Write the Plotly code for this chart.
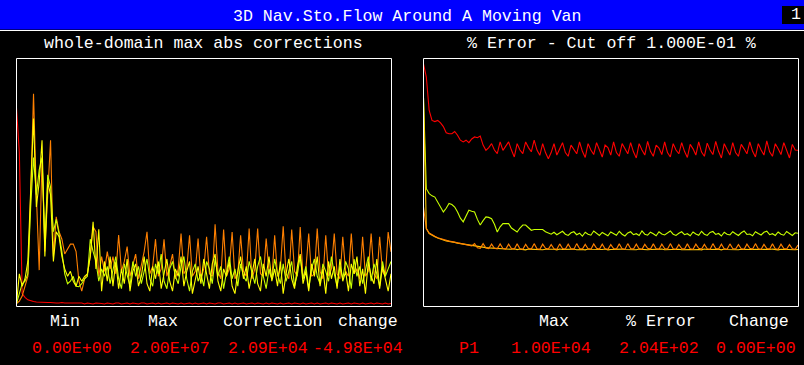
import plotly.graph_objects as go

# ---------------- data ----------------
iterations = list(range(133))

# left panel: whole-domain max abs corrections (normalised 0-100)
corr_p1 = [80, 62, 5, 3.5, 2.5, 2, 1.8, 1.6, 1.5, 1.6,
           1.6, 1.4, 1.4, 1.2, 1.2, 1.2, 1.4, 1.2, 1.2, 1.2,
           1.2, 1.0, 1.2, 1.2, 0.8, 1.2, 1.0, 0.8, 1.2, 1.2,
           1.0, 0.8, 1.2, 1.0, 0.8, 1.2, 1.2, 0.8, 1.0, 1.2,
           0.8, 1.2, 1.0, 0.8, 1.2, 1.2, 0.8, 1.0, 1.2, 0.8,
           1.2, 0.8, 1.0, 1.2, 0.8, 1.2, 1.0, 0.8, 1.2, 0.8,
           1.0, 1.2, 0.8, 1.2, 0.8, 1.0, 1.2, 0.8, 1.2, 1.0,
           0.8, 1.2, 1.2, 0.8, 1.0, 1.2, 0.8, 1.2, 0.8, 1.0,
           1.2, 0.8, 1.0, 1.2, 0.8, 1.2, 1.0, 0.8, 1.2, 0.8,
           1.2, 1.0, 0.8, 1.2, 0.8, 1.0, 1.2, 0.8, 1.2, 1.0,
           0.8, 1.2, 0.8, 1.0, 1.2, 0.8, 1.2, 0.8, 1.0, 1.2,
           0.8, 1.2, 1.0, 0.8, 1.2, 0.8, 1.0, 1.2, 0.8, 1.2,
           1.0, 0.8, 1.2, 0.8, 1.0, 1.2, 0.8, 1.2, 1.0, 0.8,
           1.2, 0.8, 1.0]
corr_u1 = [1, 2, 4, 8, 12, 45, 85.8, 45, 14.5, 60,
           22, 45, 67, 20, 36, 30, 27, 21, 23, 25,
           25, 22, 10, 6, 11, 13, 20, 32, 30, 12,
           20, 14, 22, 15, 20, 13, 28.7, 14, 18, 24,
           12, 16, 21, 11, 17, 22, 30, 13, 16, 27,
           12, 15, 27, 12, 16, 21, 11, 15, 29.3, 13,
           15, 28.6, 12, 14, 27.3, 11, 15, 28, 13, 12,
           33, 14, 11, 30.9, 12, 15, 29.9, 11, 13, 28.6,
           14, 12, 31.3, 11, 15, 31.3, 13, 12, 27.3, 14,
           11, 28.6, 12, 15, 32.2, 13, 11, 30.9, 14, 12,
           31.9, 11, 15, 29.3, 12, 13, 31.3, 14, 11, 28.6,
           12, 15, 29.3, 13, 11, 28, 14, 12, 29.3, 13,
           15, 11, 28, 12, 14, 29.3, 13, 11, 28, 14,
           12, 29.9, 21.9]
corr_v1 = [1, 13, 8, 11, 18, 50, 75.7, 40, 50, 67,
           20, 50, 45, 18, 30, 28, 20, 15, 12, 14,
           10, 8, 12, 10, 12, 13, 20, 34, 15, 31,
           6, 18, 10, 20, 8,
           18, 7, 15, 9, 19, 6, 14, 17, 8, 12,
           20, 9, 6, 16, 11, 18, 7, 13, 19, 10,
           6, 15, 12, 20, 8, 14, 18, 5, 11, 16,
           9, 19, 13, 7, 17, 21, 10, 6, 15, 12,
           18, 8, 5, 14, 20, 11, 16, 7, 13, 19,
           9, 6, 17, 12, 20, 10, 15, 8, 18, 5,
           13, 19, 11, 7, 16, 21, 9, 14, 6, 17,
           12, 20, 8, 15, 5, 18, 11, 16, 7, 19,
           10, 14, 6, 17, 13, 20, 8, 15, 5, 18,
           12, 9, 19, 7, 16, 11, 6, 13]
corr_w1 = [1, 5, 9, 10, 13, 40, 60, 45, 55, 60,
           25, 53, 48, 30, 35, 29, 22, 13, 9, 10,
           12, 8, 7.8, 9, 11, 12, 27, 22, 18, 10,
           15,
           12, 16, 9, 14, 20, 11, 7, 17, 13, 8, 18, 12, 16, 9,
           14, 19, 11, 8, 17, 13, 21, 10, 7, 15,
           18, 12, 9, 16, 20, 11, 6, 14, 17, 10,
           13, 8, 18, 15, 9, 19, 12, 16, 7, 14,
           20, 11, 15, 8, 17, 12, 10, 18, 14, 9,
           16, 20, 12, 7, 15, 11, 19, 13, 9, 17,
           10, 14, 18, 8, 13, 20, 11, 16, 7, 15,
           19, 12, 9, 17, 14, 10, 20, 13, 8, 16,
           11, 18, 15, 7, 19, 12, 16, 9, 14, 20,
           10, 17, 13, 8, 18, 12, 15, 18]

# right panel: % error (normalised 0-100)
err_p1 = [97.8, 92.5, 79, 75, 74.5, 75, 74, 72.5, 70, 69.6,
          69.6, 70.5, 69, 67, 66.3, 67, 66, 67.5, 68.3, 68,
          68.7, 65, 62.9, 64, 65.6, 63, 61.6, 66.3, 62.9, 64.5,
          66.3, 63, 60.2, 65.6, 63, 61.6, 66.3, 64, 62.3, 67,
          63, 60.9, 65.6, 62, 59.5,
          62, 65.6, 61, 63.5, 66, 62, 60.5, 65, 63, 61.5,
          66.3, 62.5, 60, 65.6, 63, 61.2, 66, 62.8, 60.2, 65,
          64, 61, 66.3, 62, 60.5, 65.6, 63.5, 61.5, 66, 62.3,
          59.8, 65.6, 63, 61, 66.5, 62.5, 60.5, 65, 63.8, 61.2,
          66.3, 62, 60.2, 65.6, 63, 61.5, 66, 62.5, 60, 65.3,
          63.5, 61, 66.3, 62.2, 60.5, 65.8, 63, 61.2, 66.5, 62.5,
          59.8, 65.6, 63.2, 61, 66, 62, 60.5, 65.3, 63.5, 61.5,
          66.3, 62.5, 60.2, 65.6, 63, 61, 66.7, 62.3, 60.5, 65.6,
          63.5, 61.2, 66, 62.5, 59.8, 65.3, 63, 62.9]
err_w1 = [84, 47.4, 45.4, 44.5, 44, 42, 40, 38, 39.5, 41.4,
          41, 40, 38, 35.5, 34, 36.5, 38.7, 38.3, 38, 35,
          32.7, 34.5, 36, 35.8, 35.3, 33, 29.9, 32, 33.3, 33.3,
          33.3, 31.5, 30.5, 29.9, 31.5, 32.7, 32.7, 31.5, 30.6, 30.9,
          30.9, 31, 30.9, 30, 29.5, 29, 29.8, 28.8, 29.5, 30.2,
          29, 28.5, 29.6, 30, 28.8, 29.4, 28.2, 29.8, 29, 28.6,
          30.3, 29.2, 28.5, 29.7, 29, 28.4, 29.9, 29.1, 28.6, 30.2,
          29, 28.3, 29.5, 30, 28.8, 29.2, 28.5, 30.3, 29, 28.6,
          29.8, 29.2, 28.4, 30, 29.1, 28.7, 29.6, 30.3, 29, 28.5,
          29.4, 30, 28.8, 29.2, 28.4, 29.9, 29.1, 28.6, 30.2, 29,
          28.5, 29.7, 30.1, 28.9, 29.3, 28.3, 29.8, 29, 28.7, 30,
          29.2, 28.5, 29.6, 30.3, 28.9, 29.1, 28.4, 30, 29.3, 28.7,
          29.8, 30.2, 28.8, 29.2, 28.5, 29.9, 29, 28.6, 30.1, 29.2,
          28.5, 29.6, 29.4]
err_v1 = [84, 31.3, 29.3, 28.5, 28, 27.5, 27, 26.6, 26.3, 26.1,
          26, 25.7, 25.4, 25.2, 25, 24.8, 24.5, 24.3, 24.1, 24,
          23.8, 23.7, 23.6, 23.5, 23.4, 23.3, 23.3, 23.2, 23.1, 23,
          23, 22.9, 23.1, 22.8, 23, 22.9, 22.7, 23, 22.9, 22.8,
          23, 22.8, 22.7, 22.9, 23, 22.8, 22.9, 22.7, 23, 22.8,
          22.9, 22.7, 22.8, 23, 22.7, 22.9, 22.8, 22.7, 23, 22.9,
          22.8, 22.7, 22.9, 22.8, 23, 22.7, 22.8, 22.9, 22.7, 22.8,
          23, 22.8, 22.7, 22.9, 22.8, 22.7, 23, 22.8, 22.9, 22.7,
          22.8, 22.9, 22.7, 22.8, 23, 22.7, 22.8, 22.9, 22.7, 22.8,
          22.9, 22.7, 22.8, 23, 22.8, 22.7, 22.9, 22.8, 22.7, 23,
          22.8, 22.9, 22.7, 22.8, 22.9, 22.7, 23, 22.8, 22.7, 22.9,
          22.8, 22.7, 22.9, 22.8, 23, 22.7, 22.8, 22.9, 22.7, 22.8,
          22.9, 22.7, 22.8, 23, 22.8, 22.7, 22.9, 22.8, 22.7, 22.9,
          22.8, 22.7, 22.8]
err_u1 = [40, 31.3, 29.5, 28.7, 28.2, 27.6, 27.2, 26.8, 26.5, 26.2,
          26, 25.8, 25.5, 25.3, 25, 24.8, 24.6, 24.3, 25.2, 23.5,
          23.3, 25.2, 23.4, 23.2, 25, 23.3, 23.1, 25.1, 23.2, 23,
          25, 23.2, 23, 25.1, 23.1, 22.9, 24.9, 23.2, 23, 25.2,
          23.1, 22.9, 25, 23.3, 23, 24.8, 23.1, 22.9, 25.1, 23.2,
          23, 25, 23.1, 22.9, 25.2, 23.2, 23, 24.9, 23.1, 22.9,
          25.1, 23.3, 23, 25, 23.1, 22.9, 24.8, 23.2, 23, 25.1,
          23.1, 22.9, 25.2, 23.2, 23, 25, 23.1, 22.9, 24.9, 23.3,
          23, 25.1, 23.1, 22.9, 25, 23.2, 23, 25.2, 23.1, 22.9,
          24.8, 23.2, 23, 25.1, 23.1, 22.9, 25, 23.3, 23, 24.9,
          23.1, 22.9, 25.2, 23.2, 23, 25, 23.1, 22.9, 25.1, 23.2,
          23, 24.8, 23.1, 22.9, 25, 23.3, 23, 25.2, 23.1, 22.9,
          24.9, 23.2, 23, 25.1, 23.1, 22.9, 25, 23.2, 23, 24.8,
          23.1, 22.9, 24.6]

title_text = "3D Nav.Sto.Flow Around A Moving Van"
left_title = "whole-domain max abs corrections"
right_title = "% Error - Cut off 1.000E-01 %"
left_headers = ["Min", "Max", "correction", "change"]
left_values = ["0.00E+00", "2.00E+07", "2.09E+04", "-4.98E+04"]
right_headers = ["Max", "% Error", "Change"]
right_values = ["P1", "1.00E+04", "2.04E+02", "0.00E+00"]

# ---------------- figure ----------------
W, H = 804, 365
FONT = "Liberation Mono"
FS = 16.6
RED, ORANGE, YELLOW, GREEN, GOLD = "#ff0000", "#ff8000", "#ffff00", "#c8ff00", "#ffc800"

def px(x):
    return x / W

def py(y):
    return 1 - y / H

fig = go.Figure()
lw = 1.1
for y, c in [(corr_p1, RED), (corr_u1, ORANGE), (corr_w1, GREEN), (corr_v1, YELLOW)]:
    fig.add_trace(go.Scatter(x=iterations, y=y, mode="lines", line=dict(color=c, width=lw),
                             xaxis="x", yaxis="y", hoverinfo="skip"))
for y, c in [(err_p1, RED), (err_w1, GREEN), (err_v1, GOLD), (err_u1, ORANGE)]:
    fig.add_trace(go.Scatter(x=iterations, y=y, mode="lines", line=dict(color=c, width=lw),
                             xaxis="x2", yaxis="y2", hoverinfo="skip"))

ax = dict(visible=False, range=[0, 132], fixedrange=True)
ay = dict(visible=False, range=[0, 100], fixedrange=True)
fig.update_layout(
    width=W, height=H, margin=dict(l=0, r=0, t=0, b=0),
    paper_bgcolor="black", plot_bgcolor="black", showlegend=False, hovermode=False,
    xaxis=dict(ax, domain=[px(16.5), px(391)]),
    yaxis=dict(ay, domain=[py(306), py(58.5)]),
    xaxis2=dict(ax, domain=[px(423.5), px(798)]),
    yaxis2=dict(ay, domain=[py(306), py(58.5)], anchor="x2"),
    font=dict(family=FONT, size=FS, color="white"),
)
fig.layout.xaxis2.anchor = "y2"

shapes = [
    dict(type="rect", xref="paper", yref="paper", x0=0, x1=1, y0=py(29.5), y1=1,
         fillcolor="#0000ff", line=dict(width=0), layer="below"),
    dict(type="line", xref="paper", yref="paper", x0=0, x1=1, y0=py(30.5), y1=py(30.5),
         line=dict(color="white", width=1)),
    dict(type="rect", xref="paper", yref="paper", x0=px(782), x1=1, y0=py(24), y1=py(6),
         fillcolor="black", line=dict(width=0)),
    dict(type="rect", xref="paper", yref="paper", x0=px(16.5), x1=px(391.5), y0=py(306.5), y1=py(58.5),
         line=dict(color="white", width=1), fillcolor="rgba(0,0,0,0)"),
    dict(type="rect", xref="paper", yref="paper", x0=px(423.5), x1=px(798.5), y0=py(306.5), y1=py(58.5),
         line=dict(color="white", width=1), fillcolor="rgba(0,0,0,0)"),
]
fig.update_layout(shapes=shapes)

def txt(x, y, s, color="white", size=FS):
    fig.add_annotation(x=px(x), y=py(y), xref="paper", yref="paper", text=s, showarrow=False,
                       xanchor="center", yanchor="middle",
                       font=dict(family=FONT, size=size, color=color))

txt(407, 16, title_text)
txt(796, 15, "1")
txt(203.5, 44, left_title)
txt(611, 44, right_title)
for s, x in zip(left_headers, [64.5, 162.5, 272.5, 367.5]):
    txt(x, 321, s)
for s, x in zip(left_values, [71.5, 169.5, 267.5, 358]):
    txt(x, 348, s, RED)
for s, x in zip(right_headers, [554, 661, 758.5]):
    txt(x, 321, s)
for s, x in zip(right_values, [468.5, 551, 658.5, 756]):
    txt(x, 348, s, RED)

fig.write_html("out.html", config={"displayModeBar": False, "staticPlot": True},
               post_script="document.body.style.margin='0';")
